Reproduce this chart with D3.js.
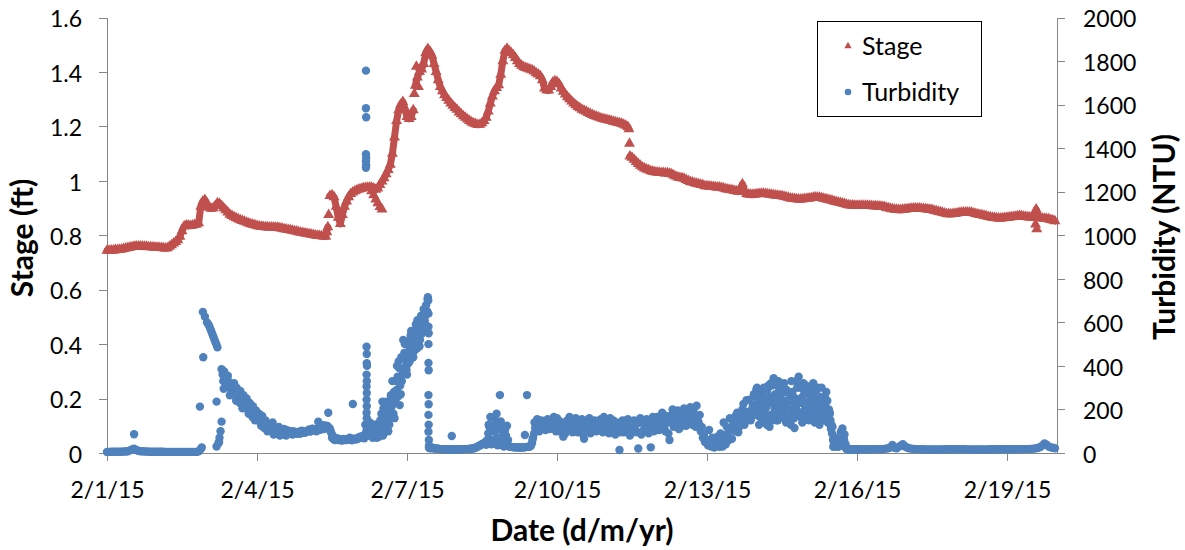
<!DOCTYPE html>
<html>
<head>
<meta charset="utf-8">
<script src="https://cdn.jsdelivr.net/npm/d3@7"></script>
<style>
  body { margin: 0; background: #fff; }
  svg text { font-family: Lato, "Open Sans", sans-serif; fill: #000; }
</style>
</head>
<body>
<svg id="chart" width="1185" height="550"></svg>
<script>
// ---- data -------------------------------------------------------------
const startDate = new Date(2015, 1, 1);   // 2/1/15 00:00
const endDate = new Date(2015, 1, 20);    // 2/20/15 00:00

const stageTicks = [0, 0.2, 0.4, 0.6, 0.8, 1, 1.2, 1.4, 1.6];
const stageTickLabels = ["0", "0.2", "0.4", "0.6", "0.8", "1", "1.2", "1.4", "1.6"];
const turbidityTicks = [0, 200, 400, 600, 800, 1000, 1200, 1400, 1600, 1800, 2000];
const turbidityTickLabels = ["0", "200", "400", "600", "800", "1000", "1200", "1400", "1600", "1800", "2000"];
const dateTicks = [new Date(2015, 1, 1), new Date(2015, 1, 4), new Date(2015, 1, 7), new Date(2015, 1, 10),
                   new Date(2015, 1, 13), new Date(2015, 1, 16), new Date(2015, 1, 19)];
const dateTickLabels = ["2/1/15", "2/4/15", "2/7/15", "2/10/15", "2/13/15", "2/16/15", "2/19/15"];

// Hourly stage readings (ft); one row per day, first reading at 00:00.
const stageHourly = [
  [.744,.744,.745,.745,.746,.746,.747,.748,.750,.752,.754,.756,.757,.758,.759,.759,.759,.759,.758,.758,.757,.757,.756,.756],
  [.755,.755,.754,.753,.752,.753,.758,.764,.770,.776,.782,.795,.815,.833,.836,.836,.835,.836,.838,.840,.845,.905,.925,.930],
  [.915,.902,.898,.900,.908,.918,.915,.908,.900,.892,.884,.876,.871,.867,.863,.859,.856,.853,.850,.847,.844,.841,.839,.837],
  [.835,.833,.832,.831,.830,.830,.829,.829,.829,.828,.828,.826,.825,.823,.822,.820,.819,.817,.815,.814,.812,.810,.809,.807],
  [.806,.804,.803,.802,.800,.799,.798,.797,.796,.795,.830,.945,.948,.940,.905,.865,.842,.875,.905,.925,.940,.952,.958,.962],
  [.966,.969,.971,.973,.974,.975,.976,.975,.972,.968,.972,.985,.998,1.01,1.025,1.04,1.06,1.10,1.16,1.22,1.26,1.28,1.29,1.265],
  [1.235,1.228,1.235,1.26,1.35,1.38,1.40,1.41,1.43,1.47,1.485,1.475,1.46,1.43,1.40,1.37,1.345,1.33,1.315,1.305,1.295,1.285,1.276,1.268],
  [1.262,1.252,1.245,1.238,1.232,1.226,1.22,1.215,1.211,1.208,1.206,1.207,1.212,1.22,1.232,1.255,1.285,1.31,1.33,1.342,1.352,1.39,1.44,1.478],
  [1.486,1.478,1.47,1.462,1.452,1.44,1.43,1.423,1.418,1.415,1.412,1.41,1.407,1.402,1.396,1.391,1.385,1.37,1.34,1.333,1.332,1.345,1.362,1.366],
  [1.364,1.355,1.34,1.328,1.318,1.308,1.30,1.292,1.285,1.278,1.272,1.267,1.262,1.258,1.254,1.25,1.246,1.242,1.239,1.236,1.233,1.23,1.228,1.226],
  [1.224,1.222,1.22,1.218,1.216,1.214,1.212,1.21,1.207,1.203,1.198,1.09,1.085,1.078,1.07,1.062,1.056,1.05,1.046,1.042,1.039,1.036,1.034,1.032],
  [1.031,1.03,1.029,1.029,1.028,1.028,1.027,1.025,1.02,1.016,1.013,1.011,1.01,1.008,1.004,1.0,.996,.994,.992,.99,.988,.986,.984,.981],
  [.981,.98,.979,.978,.977,.976,.976,.974,.972,.970,.969,.967,.966,.964,.962,.96,.968,.988,.96,.952,.95,.949,.949,.95],
  [.951,.952,.953,.953,.952,.951,.95,.949,.948,.947,.946,.945,.944,.942,.94,.938,.936,.935,.934,.933,.932,.932,.933,.934],
  [.935,.936,.937,.938,.939,.939,.938,.937,.935,.933,.931,.929,.927,.925,.923,.921,.919,.917,.915,.913,.911,.91,.91,.909],
  [.909,.909,.909,.909,.909,.909,.908,.908,.907,.907,.906,.906,.905,.904,.902,.9,.898,.896,.895,.894,.893,.893,.894,.895],
  [.896,.897,.898,.899,.899,.899,.899,.898,.897,.896,.895,.894,.893,.891,.889,.887,.885,.883,.881,.879,.878,.878,.879,.88],
  [.881,.882,.883,.884,.884,.884,.884,.883,.881,.879,.877,.875,.874,.872,.87,.868,.867,.865,.864,.863,.862,.862,.863,.864],
  [.865,.866,.867,.868,.869,.87,.871,.87,.869,.868,.867,.866,.866,.866,.895,.866,.864,.862,.861,.86,.859,.857,.855,.852]
];
// Additional stage readings between the hourly ones: [hours since start, ft]
const stageExtra = [
  [105.5, .812], [106.4, .875],
  [127, .962], [128, .948], [129, .932], [130, .918], [131, .904], [132, .895],
  [147.5, 1.32], [148.5, 1.42], [149.5, 1.345], [150.5, 1.415],
  [250.5, 1.19], [250.8, 1.137],
  [445.7, .84], [446.3, .823]
];

// Hourly turbidity readings (NTU); one row per day, first reading at 00:00.
const turbidityHourly = [
  [5,5,6,6,6,6,6,6,7,7,8,12,16,20,14,10,8,8,7,7,6,6,6,6],
  [6,6,6,6,5,5,5,5,5,5,5,5,5,5,5,5,5,5,5,5,8,18,648,626],
  [600,585,560,535,510,485,70,385,295,335,355,265,305,320,240,280,285,205,245,250,180,215,215,150],
  [185,180,125,150,150,100,125,130,85,105,115,80,95,110,80,92,100,85,95,88,98,90,100,93],
  [100,108,102,110,104,112,106,115,110,118,122,112,70,62,65,60,63,58,62,60,64,62,66,64],
  [68,72,70,80,130,110,90,120,75,100,85,130,95,160,236,100,190,330,160,290,420,270,380,500],
  [360,470,560,440,520,610,490,580,660,570,715,22,25,22,20,20,18,18,17,17,16,17,16,16],
  [17,17,18,17,18,18,19,20,22,25,30,35,40,45,38,90,165,60,130,180,40,145,35,105],
  [125,30,28,27,26,26,25,25,26,27,28,30,45,90,140,120,135,115,140,125,145,120,150,130],
  [160,100,130,75,90,150,165,110,130,160,95,135,155,65,120,150,90,125,150,100,130,155,95,120],
  [140,90,120,150,85,115,14,140,95,125,155,80,115,150,95,21,160,100,125,155,90,26,165,110],
  [165,105,135,160,100,140,60,175,120,150,195,115,150,205,125,165,210,130,170,217,140,100,70,50],
  [45,106,30,60,38,75,28,50,140,40,90,160,65,130,175,95,150,200,130,243,170,150,220,175],
  [300,130,210,250,170,290,120,230,343,180,150,260,210,320,140,240,190,280,115,220,350,165,260,200],
  [280,150,210,320,175,240,130,300,190,230,140,180,90,37,30,40,70,113,85,20,17,17,16,16],
  [17,17,16,17,17,16,17,17,18,18,17,17,18,19,20,22,26,37,24,22,28,33,40,30],
  [25,22,20,19,18,18,17,17,17,16,16,16,16,16,16,16,16,16,17,17,17,17,17,17],
  [17,17,17,17,17,16,16,16,16,16,16,16,16,16,16,16,17,17,17,17,17,17,17,17],
  [17,17,17,17,17,17,17,18,18,18,18,19,19,20,22,24,27,35,44,38,30,26,24,22]
];
// Half-past-the-hour turbidity readings (NTU) for 2/3/15 through 2/15/15.
const turbidityHalfHourFirstDay = 2;
const turbidityHalfHour = [
  [592,572,548,522,498,45,100,360,350,310,325,290,280,300,265,255,240,265,225,210,230,190,170,195],
  [160,140,170,115,135,120,110,140,100,95,120,90,100,85,105,95,90,100,92,96,88,102,95,98],
  [104,98,112,106,100,115,108,120,112,125,115,95,66,60,68,62,57,65,60,63,70,58,65,62],
  [65,75,72,68,100,140,80,105,130,70,95,115,80,140,110,130,260,180,240,350,220,330,440,400],
  [410,520,500,470,560,520,600,560,610,640,24,23,22,21,20,19,18,18,17,17,16,17,16,16],
  [17,18,17,18,18,19,20,21,23,27,32,38,42,50,60,120,40,100,150,35,120,70,30,80],
  [60,29,27,26,26,25,25,26,26,28,29,33,70,115,155,100,150,130,105,155,110,135,165,100],
  [120,145,105,90,130,110,135,95,150,120,140,105,85,140,110,160,130,100,140,115,145,125,165,105],
  [105,160,130,100,140,120,95,150,110,135,90,140,125,105,135,145,85,135,150,110,140,125,100,145],
  [130,150,185,120,170,90,145,200,135,165,110,180,140,190,150,185,160,195,120,150,175,120,85,60],
  [35,50,70,25,55,45,90,30,80,120,60,110,145,100,185,120,165,225,190,160,245,200,270,185],
  [230,180,270,140,210,310,175,255,200,150,300,240,180,280,230,160,330,200,250,170,300,230,150,310],
  [200,260,160,230,290,150,210,180,260,170,200,110,60,45,35,55,100,75,40,18,17,16,17,16]
];
// Quarter-past and quarter-to readings (NTU) for the busy 2/14/15 - 2/15/15 stretch.
const turbidityQuarterFirstDay = 13;
const turbidityQuarterPast = [
  [250,200,160,300,230,140,260,310,220,190,330,250,170,240,290,200,130,260,220,300,180,250,320,170],
  [230,170,280,200,250,300,160,240,210,280,160,150,120,50,40,30,80,60,30,17,17,17,16,17]
];
const turbidityQuarterTo = [
  [170,280,240,200,130,250,320,150,270,230,190,280,300,150,200,270,240,160,330,190,240,140,280,230],
  [180,300,220,140,210,260,190,230,150,240,190,130,75,35,28,45,90,50,20,17,16,17,16,16]
];
// Further isolated turbidity readings: [hours since start, NTU]
const turbidityExtra = [
  [13, 86], [44.6, 213], [45.5, 25], [46.2, 440], [52.6, 30], [52.6, 236], [53.8, 50], [55, 144],
  [55.8, 330], [56.2, 375], [57.8, 340], [59.2, 305], [60.8, 265], [62.2, 300], [63.8, 230],
  [65.2, 255], [66.8, 205], [68.2, 220], [69.8, 165],
  [101.4, 144], [104, 128], [106.2, 185], [107.5, 95], [108.3, 80], [118, 225],
  [124.3, 1756], [124.3, 1583], [124.4, 1542], [124.3, 1372], [124.4, 1355], [124.3, 1340],
  [124.4, 1322], [124.3, 1310], [124.6, 488], [124.7, 455], [124.7, 412], [124.8, 400],
  [124.6, 360], [124.7, 330], [124.6, 305], [124.7, 275], [124.6, 245], [124.7, 215],
  [124.6, 185], [124.7, 160],
  [125.5, 80], [126.2, 140], [126.75, 100], [127.5, 70], [128.25, 115], [129.2, 130], [129.75, 90],
  [130.5, 75], [131.2, 150], [131.7, 180], [131.75, 110], [132.2, 236], [132.5, 85], [132.7, 205],
  [133.25, 200], [133.75, 125], [134.2, 170], [134.75, 145], [135.25, 225], [135.75, 165],
  [136.25, 265], [136.75, 215], [137.2, 250], [137.75, 280], [138.25, 230], [138.75, 330],
  [139.2, 400], [139.75, 260], [140.2, 340], [140.25, 390], [140.75, 310], [141.25, 440],
  [141.75, 360], [142.2, 519], [142.75, 460], [143.2, 430], [143.75, 380], [144.25, 440],
  [144.75, 500], [145.25, 420], [145.75, 540], [146.2, 500], [146.75, 460], [147.25, 560],
  [147.75, 500], [148.25, 590], [148.75, 480], [149.2, 550], [149.75, 590], [150.25, 520],
  [150.75, 630], [151.25, 550], [151.75, 610], [152.2, 620], [152.75, 590], [153.2, 680],
  [153.75, 650], [153.9, 705],
  [154.2, 700], [154.3, 640], [154.3, 580], [154.4, 550], [154.3, 500], [154.3, 413],
  [154.4, 380], [154.3, 266], [154.4, 224], [154.3, 175], [154.4, 130], [154.3, 98],
  [154.5, 60], [154.6, 35],
  [165.5, 78],
  [183.2, 130], [184.2, 55], [186.2, 100], [187.2, 70], [188.6, 266], [189.2, 106], [190.2, 60],
  [200.6, 83], [201.6, 266], [204.2, 60], [205.2, 140],
  [311.7, 292],
  [347.2, 130], [348.6, 29], [349.2, 55], [352.2, 95], [353.8, 60]
];

// ---- helpers ----------------------------------------------------------
const atHour = h => new Date(startDate.getTime() + h * 3600e3);
const flattenRows = (rows, firstDay, offset) =>
  rows.flatMap((row, day) => row.map((v, i) => ({ t: atHour((firstDay + day) * 24 + i + offset), v })));
const fromPairs = pairs => pairs.map(([h, v]) => ({ t: atHour(h), v }));

const stageSeries = flattenRows(stageHourly, 0, 0);
const stagePoints = stageSeries.concat(fromPairs(stageExtra));
const turbidityPoints = flattenRows(turbidityHourly, 0, 0)
  .concat(flattenRows(turbidityHalfHour, turbidityHalfHourFirstDay, 0.5))
  .concat(flattenRows(turbidityQuarterPast, turbidityQuarterFirstDay, 0.25))
  .concat(flattenRows(turbidityQuarterTo, turbidityQuarterFirstDay, 0.75))
  .concat(fromPairs(turbidityExtra));

// Consecutive hourly stage readings form a dense run of markers; a sudden
// step between readings leaves a gap, so the run is split there.
const stageRuns = [];
stageSeries.forEach((p, i) => {
  if (i === 0 || Math.abs(p.v - stageSeries[i - 1].v) > 0.07) stageRuns.push([]);
  stageRuns[stageRuns.length - 1].push(p);
});

// ---- scales -----------------------------------------------------------
const plot = { left: 107, right: 1057, top: 17.5, bottom: 453 };
const x = d3.scaleTime().domain([startDate, endDate]).range([plot.left, plot.right]);
const yStage = d3.scaleLinear().domain([0, 1.6]).range([plot.bottom, plot.top]);
const yTurb = d3.scaleLinear().domain([0, 2000]).range([plot.bottom, plot.top]);

const axisGrey = "#868686";
const stageColor = "#C0504D";
const turbColor = "#4F81BD";

const svg = d3.select("#chart");

// ---- axes -------------------------------------------------------------
function styleAxis(g) {
  g.selectAll("path.domain").attr("stroke", axisGrey).attr("shape-rendering", "crispEdges");
  g.selectAll(".tick line").attr("stroke", axisGrey).attr("shape-rendering", "crispEdges");
  g.selectAll(".tick text").style("font-size", "23px").attr("fill", "#000");
}

const gLeft = svg.append("g")
  .attr("transform", `translate(${plot.left},0)`)
  .call(d3.axisLeft(yStage).tickValues(stageTicks)
    .tickFormat((d, i) => stageTickLabels[i]).tickSize(8).tickSizeOuter(0).tickPadding(17));
styleAxis(gLeft);
gLeft.selectAll(".tick text").attr("dy", "0.4em");

const gRight = svg.append("g")
  .attr("transform", `translate(${plot.right},0)`)
  .call(d3.axisRight(yTurb).tickValues(turbidityTicks)
    .tickFormat((d, i) => turbidityTickLabels[i]).tickSize(8).tickSizeOuter(0).tickPadding(18));
styleAxis(gRight);
gRight.selectAll(".tick text").attr("dy", "0.4em");

const gBottom = svg.append("g")
  .attr("transform", `translate(0,${plot.bottom})`)
  .call(d3.axisBottom(x).tickValues(dateTicks)
    .tickFormat((d, i) => dateTickLabels[i]).tickSize(8).tickSizeOuter(0));
styleAxis(gBottom);
gBottom.selectAll(".tick text").attr("y", 45).attr("dy", 0);

// ---- axis titles --------------------------------------------------------
svg.append("text")
  .attr("transform", "translate(33,238) rotate(-90)")
  .attr("text-anchor", "middle")
  .style("font-size", "30px").style("font-weight", "bold")
  .text("Stage (ft)");

svg.append("text")
  .attr("transform", "translate(1175,237) rotate(-90)")
  .attr("text-anchor", "middle")
  .style("font-size", "30px").style("font-weight", "bold")
  .text("Turbidity (NTU)");

svg.append("text")
  .attr("x", (plot.left + plot.right) / 2).attr("y", 541)
  .attr("text-anchor", "middle")
  .style("font-size", "30px").style("font-weight", "bold")
  .text("Date (d/m/yr)");

// ---- series -------------------------------------------------------------
const stageLine = d3.line().x(d => x(d.t)).y(d => yStage(d.v));
svg.append("g").attr("class", "stage-runs")
  .selectAll("path")
  .data(stageRuns.filter(r => r.length > 1))
  .join("path")
  .attr("d", stageLine)
  .attr("fill", "none")
  .attr("stroke", stageColor)
  .attr("stroke-width", 7)
  .attr("stroke-linejoin", "round")
  .attr("stroke-linecap", "round");

const triangle = d3.symbol().type(d3.symbolTriangle).size(52);
svg.append("g").attr("class", "stage")
  .selectAll("path")
  .data(stagePoints)
  .join("path")
  .attr("d", triangle)
  .attr("transform", d => `translate(${x(d.t)},${yStage(d.v)})`)
  .attr("fill", stageColor);

svg.append("g").attr("class", "turbidity")
  .selectAll("circle")
  .data(turbidityPoints)
  .join("circle")
  .attr("cx", d => x(d.t))
  .attr("cy", d => yTurb(d.v))
  .attr("r", 4.2)
  .attr("fill", turbColor);

// ---- legend -------------------------------------------------------------
const legend = svg.append("g").attr("transform", "translate(817,21)");
legend.append("rect")
  .attr("x", 0.5).attr("y", 0.5).attr("width", 164).attr("height", 95)
  .attr("fill", "#fff").attr("stroke", "#000").attr("stroke-width", 1);

legend.append("path")
  .attr("d", d3.symbol().type(d3.symbolTriangle).size(24)())
  .attr("transform", "translate(31,25)")
  .attr("fill", stageColor);
legend.append("text").attr("x", 45).attr("y", 25).attr("dy", "0.36em")
  .style("font-size", "25px").text("Stage");

legend.append("circle").attr("cx", 31).attr("cy", 71).attr("r", 3.3).attr("fill", turbColor);
legend.append("text").attr("x", 45).attr("y", 71).attr("dy", "0.36em")
  .style("font-size", "25px").text("Turbidity");
</script>
</body>
</html>
